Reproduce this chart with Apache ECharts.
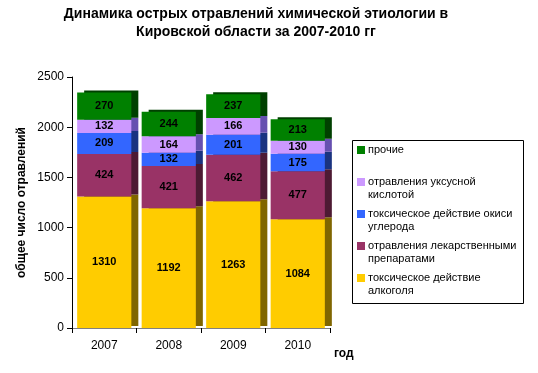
<!DOCTYPE html>
<html><head><meta charset="utf-8">
<script src="https://cdn.jsdelivr.net/npm/echarts@6/dist/echarts.min.js"></script>
<style>html,body{margin:0;padding:0;background:#fff}#c{width:538px;height:373px}</style>
</head><body><div id="c"></div>
<script>
var years = ['2007','2008','2009','2010'];
var alcohol = [1310,1192,1263,1084];
var drugs = [424,421,462,477];
var carbonMonoxide = [209,132,201,175];
var aceticAcid = [132,164,166,130];
var other = [270,244,237,213];
var yTicks = [0,500,1000,1500,2000,2500];

var names = ['токсическое действие алкоголя','отравления лекарственными препаратами','токсическое действие окиси углерода','отравления уксусной кислотой','прочие'];
var legendLines = {
  'токсическое действие алкоголя':['токсическое действие','алкоголя'],
  'отравления лекарственными препаратами':['отравления лекарственными','препаратами'],
  'токсическое действие окиси углерода':['токсическое действие окиси','углерода'],
  'отравления уксусной кислотой':['отравления уксусной','кислотой'],
  'прочие':['прочие',' ']
};
var colors = ['#FFCC00','#993366','#3366FF','#CC99FF','#008000'];
var sideColors = ['#806600','#4D1A33','#1A3380','#6650B0','#004000'];
var dataSets = [alcohol, drugs, carbonMonoxide, aceticAcid, other];

var series = dataSets.map(function(d,i){
  return {
    name: names[i], type:'bar', stack:'s', data:d, barCategoryGap:'16%',
    itemStyle:{color:colors[i], shadowColor:sideColors[i], shadowOffsetX:7, shadowOffsetY:-2, shadowBlur:0},
    label:{show:true, position:'inside', color:'#000', fontWeight:'bold', fontSize:11, fontFamily:'Liberation Sans, Arial'}
  };
});

var chart = echarts.init(document.getElementById('c'), null, {renderer:'canvas'});
chart.setOption({
  animation:false,
  backgroundColor:'#fff',
  textStyle:{fontFamily:'Liberation Sans, Arial'},
  title:{text:'Динамика острых отравлений химической этиологии в\nКировской области за 2007-2010 гг', left:251, top:0, textAlign:'center',
    textStyle:{fontSize:14, fontWeight:'bold', color:'#000', lineHeight:18, fontFamily:'Liberation Sans, Arial'}},
  graphic:[{type:'rect', left:350, top:138, shape:{width:171, height:163}, style:{fill:'none', stroke:'#000', lineWidth:1}, z:-1}],
  legend:{orient:'vertical', left:357, top:130.5, data:names.slice().reverse(),
    itemWidth:8, itemHeight:8, itemGap:-7, padding:0,
    icon:'rect',
    formatter:function(n){ var l = legendLines[n]; return ' \n' + l[0] + '\n' + l[1]; },
    textStyle:{fontSize:11, color:'#000', lineHeight:13, fontFamily:'Liberation Sans, Arial', padding:[0,0,0,-2]}},
  grid:{left:72, right:208, top:77, bottom:45},
  xAxis:{type:'category', data:years, name:'год', nameLocation:'end', nameGap:4,
    nameTextStyle:{fontWeight:'bold', fontSize:12, color:'#000', verticalAlign:'top', padding:[20,0,0,0]},
    axisLine:{lineStyle:{color:'#808080'}}, axisTick:{show:true, lineStyle:{color:'#000'}},
    axisLabel:{color:'#000', fontSize:12, margin:12}},
  yAxis:{type:'value', min:0, max:2500, interval:500, name:'общее число отравлений', nameLocation:'middle', nameGap:44,
    nameTextStyle:{fontWeight:'bold', fontSize:12, color:'#000'},
    axisLine:{show:true, lineStyle:{color:'#000'}}, axisTick:{show:true, lineStyle:{color:'#000'}},
    splitLine:{show:false},
    axisLabel:{color:'#000', fontSize:12, formatter:function(v){return yTicks.indexOf(v)>=0? String(v):'';}}},
  series: series
});
</script></body></html>
